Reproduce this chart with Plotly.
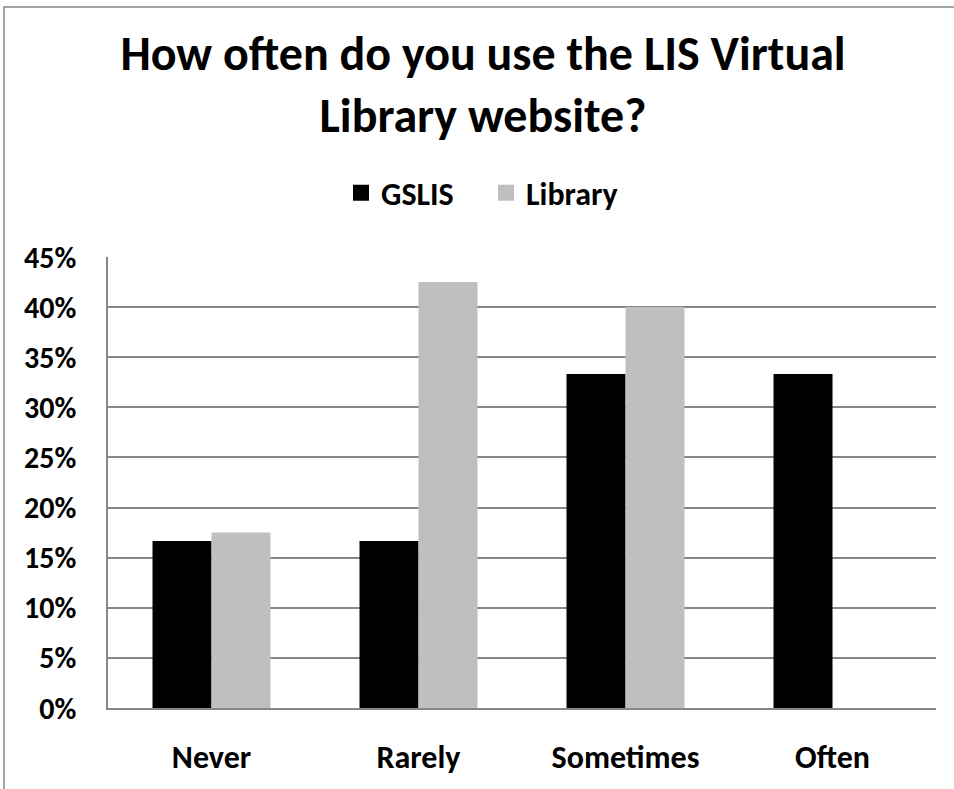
import plotly.graph_objects as go

categories = ["Never", "Rarely", "Sometimes", "Often"]
gslis = [0.1667, 0.1667, 0.3333, 0.3333]
library = [0.175, 0.425, 0.40, 0.0]
series_names = ["GSLIS", "Library"]
series_colors = ["#000000", "#BFBFBF"]
y_ticks = [0, 0.05, 0.10, 0.15, 0.20, 0.25, 0.30, 0.35, 0.40, 0.45]

FONT = "Calibri, Carlito, Lato, sans-serif"
GRID = "#868686"

W, H = 954, 789
ML, MR, MT, MB = 108, 18, 257, 74
PW, PH = W - ML - MR, H - MT - MB

fig = go.Figure()
for name, vals, col in zip(series_names, [gslis, library], series_colors):
    fig.add_trace(go.Bar(x=categories, y=vals, name=name, marker_color=col,
                         marker_line_width=0, showlegend=False))
for name, col in zip(series_names, series_colors):
    fig.add_trace(go.Scatter(x=[None], y=[None], mode="markers", name=name,
                             marker=dict(symbol="square", size=16, color=col)))

def px_x(px):
    return (px - ML) / PW

def px_y(py):
    return (H - MB - py) / PH

fig.add_shape(type="rect", xref="paper", yref="paper",
              x0=px_x(4), x1=px_x(965), y0=px_y(3), y1=px_y(800),
              line=dict(color=GRID, width=1.5), fillcolor="rgba(0,0,0,0)", layer="below")

fig.update_layout(
    width=W, height=H,
    margin=dict(l=ML, r=MR, t=MT, b=MB, pad=0),
    paper_bgcolor="white", plot_bgcolor="white",
    barmode="group", bargap=0.43, bargroupgap=0,
    font=dict(family=FONT, color="black"),
    title=dict(text="How often do you use the LIS Virtual<br>Library website?",
               x=483 / W, xanchor="center", xref="container",
               y=1 - 70 / H, yanchor="top", yref="container",
               font=dict(size=48, family=FONT, color="black", weight="bold")),
    legend=dict(orientation="h", x=px_x(341), xanchor="left",
                y=px_y(192), yanchor="middle",
                font=dict(size=32, family=FONT, color="black", weight="bold"),
                entrywidth=100, itemclick=False, bgcolor="rgba(0,0,0,0)"),
    xaxis=dict(showline=True, linecolor=GRID, linewidth=1.5, showgrid=False,
               ticks="", ticklabelstandoff=20,
               tickfont=dict(size=32, family=FONT, color="black", weight="bold")),
    yaxis=dict(range=[0, 0.45], tickvals=y_ticks, tickformat=".0%",
               showline=True, linecolor=GRID, linewidth=1.5,
               showgrid=True, gridcolor=GRID, gridwidth=1.5, zeroline=False,
               ticks="", ticklabelstandoff=24,
               tickfont=dict(size=30, family=FONT, color="black", weight="bold")),
)

fig.write_html("out.html", config={"displayModeBar": False},
               post_script="document.body.style.margin='0';document.body.style.overflow='hidden';")
